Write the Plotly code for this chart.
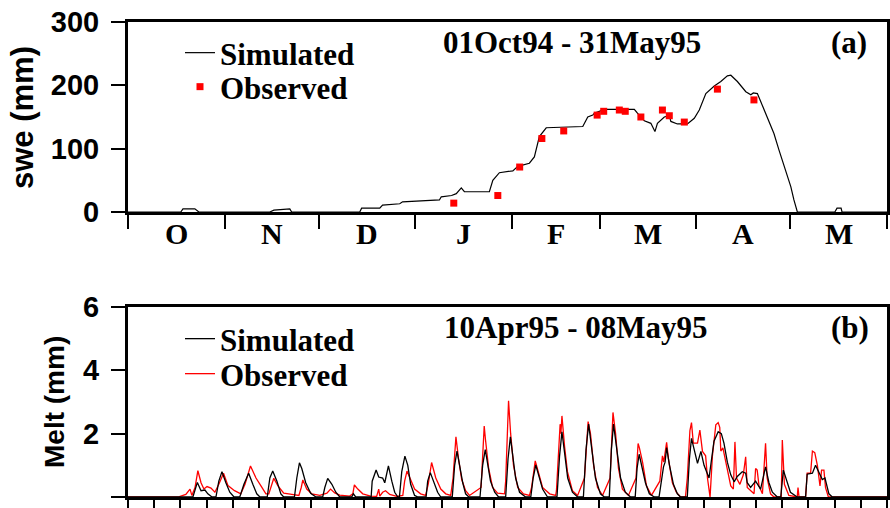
import plotly.graph_objects as go

# ---------------- Panel (a): SWE, days since 01 Oct 1994 ----------------
swe_sim_day = [0, 16.9, 17.6, 21.4, 22.7, 45.4, 46.7, 51.8, 52.4, 74.2, 74.8, 80.6, 81.5, 87.0,
               87.9, 99.7, 100.3, 103.6, 105.1, 106.7, 107.7, 115.7, 116.8, 118.9, 123.2, 124.8,
               128.5, 130.1, 131.7, 133.9, 145.6, 147.2, 148.8, 149.3, 152.5, 162.1, 163.1, 165.3,
               167.4, 168.7, 169.5, 171.7, 173.3, 173.8, 175.9, 179.1, 181.3, 182.9, 185.0, 187.7,
               189.8, 191.9, 193.0, 195.1, 197.8, 199.4, 200.2, 201.5, 202.6, 204.7, 206.8, 208.4,
               210.6, 212.2, 213.2, 214.3, 226.3, 227.0, 228.3, 228.6, 243]
swe_sim_mm = [0, 0, 5, 5, 0, 0, 3, 5, 0, 0, 6, 6, 11, 13,
              16, 19, 24, 26, 29, 38, 32, 32, 50, 62, 65, 72,
              77, 87, 119, 133, 135, 150, 153, 156, 162, 162, 156, 144,
              140, 127, 140, 150, 152, 143, 139, 139, 148, 161, 187, 199,
              206, 215, 216, 206, 190, 185, 188, 187, 174, 150, 124, 98,
              66, 40, 19, 0, 0, 6, 6, 0, 0]
swe_obs_day = [104.3, 118.4, 125.4, 132.5, 139.5, 150.2, 152.3, 157.3, 159.2, 164.2,
               171.1, 173.3, 178.1, 188.7, 200.4]
swe_obs_mm = [14, 26, 71, 116, 128, 153, 159, 161, 159, 150, 161, 152, 142, 194, 177]

month_edges = [0, 31, 61, 92, 123, 151, 182, 212, 243]
month_labels = ["O", "N", "D", "J", "F", "M", "A", "M"]
swe_ticks = [0, 100, 200, 300]

# ---------------- Panel (b): hourly melt, days since 10 Apr 1995 ----------------
melt_sim_day = [0, 2.48, 2.65, 2.79, 2.94, 3.05, 3.21,
                3.36, 3.47, 3.59, 3.74, 3.89, 4.05,
                4.27, 4.43, 4.61, 4.77, 4.92, 5.04,
                5.32, 5.42, 5.53, 5.69, 5.84, 5.95,
                6.36, 6.45, 6.55, 6.64, 6.79, 6.98, 7.18,
                7.44, 7.52, 7.63, 7.79, 7.94, 8.09,
                8.55, 8.61, 8.70,
                9.29, 9.33, 9.48, 9.58, 9.73, 9.81, 9.95, 10.08, 10.19, 10.31,
                10.37, 10.46, 10.58, 10.69, 10.80, 10.95, 11.07,
                11.39, 11.45, 11.55, 11.68, 11.83, 11.95,
                12.39, 12.48, 12.57, 12.67, 12.79, 12.90, 13.02,
                13.45, 13.55, 13.65, 13.74, 13.85, 14.01, 14.16,
                14.43, 14.52, 14.61, 14.69, 14.81, 14.96, 15.19,
                15.39, 15.48, 15.58, 15.69, 15.84, 16.03,
                16.39, 16.49, 16.58, 16.68, 16.80, 16.98, 17.18,
                17.40, 17.50, 17.60, 17.71, 17.86, 18.05, 18.20,
                18.39, 18.47, 18.55, 18.66, 18.82, 19.00, 19.20,
                19.38, 19.45, 19.53, 19.62, 19.77, 19.92, 20.11,
                20.29, 20.38, 20.46, 20.52, 20.58, 20.69, 20.84, 20.99, 21.11,
                21.37, 21.45, 21.53, 21.64, 21.76, 21.89, 22.01, 22.20, 22.39, 22.55, 22.67,
                22.77, 22.90, 23.03, 23.16, 23.28, 23.47, 23.60, 23.66, 23.79, 23.98, 24.17,
                24.36, 24.49, 24.62, 24.81,
                24.94, 25.04, 25.31, 25.57,
                25.89, 25.95, 26.15, 26.27, 26.40, 26.53, 26.63, 26.78, 26.91, 29]
melt_sim_mm = [0, 0, 0.46, 0.2, 0.22, 0.1, 0,
               0, 0.5, 0.80, 0.45, 0.15, 0,
               0, 0.4, 0.75, 0.4, 0.1, 0,
               0, 0.6, 0.82, 0.5, 0.1, 0,
               0, 0.6, 1.08, 0.9, 0.45, 0.12, 0,
               0, 0.3, 0.59, 0.4, 0.15, 0,
               0, 0.1, 0,
               0, 0.5, 0.85, 0.63, 0.6, 0.45, 0.98, 0.5, 0.15, 0,
               0, 0.8, 1.29, 1.0, 0.4, 0.05, 0,
               0, 0.5, 0.77, 0.5, 0.15, 0,
               0, 1.0, 1.45, 1.0, 0.45, 0.1, 0,
               0, 1.0, 1.5, 1.1, 0.5, 0.15, 0,
               0, 1.2, 1.9, 1.3, 0.6, 0.15, 0,
               0, 0.6, 1.01, 0.7, 0.25, 0,
               0, 1.3, 2.06, 1.4, 0.6, 0.15, 0,
               0, 1.5, 2.3, 1.6, 0.6, 0.1, 0,
               0, 1.5, 2.3, 1.6, 0.6, 0.15, 0,
               0, 0.9, 1.35, 1.0, 0.45, 0.1, 0,
               0, 0.6, 0.95, 1.1, 1.56, 1.0, 0.4, 0.1, 0,
               0, 1.2, 1.85, 1.45, 1.06, 1.44, 1.0, 0.6, 1.76, 2.06, 2.0,
               1.7, 1.1, 0.7, 0.48, 0.65, 0.8, 0.75, 0.45, 0.3, 0.5, 0.25,
               0.95, 0.45, 0.15, 0,
               0, 0.85, 0.15, 0,
               0, 0.72, 0.75, 1.0, 0.75, 0.55, 0.6, 0.1, 0, 0]

melt_obs_day = [0, 1.91, 2.21, 2.37, 2.44, 2.56, 2.67, 2.79, 2.90, 3.02, 3.17, 3.32,
                3.47, 3.65, 3.82, 4.07, 4.31,
                4.47, 4.68, 4.89, 5.08, 5.27,
                5.38, 5.50, 5.57, 5.73, 5.95, 6.26, 6.41,
                6.53, 6.62, 6.68, 6.83, 7.02, 7.33, 7.52,
                7.60, 7.74, 7.90, 8.09, 8.47,
                8.59, 8.65, 8.78, 8.97, 9.27,
                9.50, 9.58, 9.62, 9.73, 9.84, 10.00, 10.27,
                10.50, 10.57, 10.66, 10.80, 10.95, 11.18, 11.37,
                11.47, 11.60, 11.76, 11.95, 12.14, 12.33,
                12.42, 12.53, 12.63, 12.75, 12.90, 13.05,
                13.49, 13.61, 13.66, 13.78, 13.93, 14.12, 14.39,
                14.43, 14.54, 14.62, 14.73, 14.89, 15.11, 15.34,
                15.42, 15.56, 15.69, 15.84, 16.11, 16.34,
                16.37, 16.47, 16.51, 16.54, 16.58, 16.68, 16.79, 16.98, 17.18,
                17.44, 17.58, 17.67, 17.79, 17.94, 18.13,
                18.42, 18.53, 18.63, 18.74, 18.89, 19.12,
                19.41, 19.49, 19.54, 19.66, 19.81, 20.00,
                20.32, 20.42, 20.47, 20.52, 20.58, 20.65, 20.80, 20.95, 21.11,
                21.30, 21.37, 21.47, 21.53, 21.60, 21.76, 21.85, 21.95, 22.07, 22.14, 22.24,
                22.33, 22.46, 22.55, 22.61, 22.65, 22.73, 22.86, 22.98, 23.03, 23.13, 23.19,
                23.25, 23.38, 23.51, 23.60, 23.66, 23.79, 23.92, 23.98, 24.04, 24.11, 24.24,
                24.36, 24.42, 24.55, 24.68,
                24.96, 25.00, 25.08, 25.25, 25.57, 25.60, 25.64,
                25.89, 25.95, 26.08, 26.15, 26.24, 26.34, 26.44, 26.50, 26.59, 26.65, 26.76, 29]
melt_obs_mm = [0, 0, 0.08, 0.25, 0.05, 0.3, 0.83, 0.45, 0.25, 0.33, 0.28, 0.15,
               0.4, 0.75, 0.36, 0.2, 0.1,
               0.4, 0.98, 0.6, 0.35, 0.1,
               0.1, 0.45, 0.59, 0.35, 0.12, 0.08, 0.05,
               0.05, 0.3, 0.54, 0.25, 0.1, 0.05, 0.1,
               0.12, 0.25, 0.13, 0.06, 0.03,
               0.1, 0.38, 0.25, 0.1, 0.03,
               0.02, 0.25, 0.03, 0.15, 0.2, 0.08, 0.02,
               0.05, 0.5, 0.82, 0.55, 0.25, 0.1, 0.05,
               0.4, 1.09, 0.6, 0.25, 0.1, 0.05,
               0.6, 1.9, 1.2, 0.55, 0.2, 0.05,
               0.3, 2.24, 1.8, 0.9, 0.3, 0.12, 0.1,
               0.5, 3.04, 2.0, 1.0, 0.3, 0.1, 0.05,
               0.3, 1.14, 0.75, 0.3, 0.1, 0.05,
               0.2, 2.0, 2.3, 2.0, 2.56, 1.6, 0.8, 0.2, 0.05,
               0.6, 2.38, 2.0, 1.0, 0.3, 0.05,
               0.6, 2.67, 2.0, 0.9, 0.25, 0.05,
               0.6, 1.69, 1.55, 1.1, 0.35, 0.05,
               0.5, 1.3, 1.1, 1.4, 1.73, 1.2, 0.45, 0.15, 0,
               0, 0.6, 2.1, 2.35, 1.7, 1.7, 2.11, 1.44, 1.3, 0.6, 0,
               1.3, 2.28, 2.35, 2.2, 1.45, 1.55, 1.03, 0.6, 0.35, 0.25, 1.74,
               0.6, 0.4, 0.7, 1.27, 0.3, 0.2, 0.1, 0.9, 0.85, 0.35, 0.1,
               1.7, 0.6, 0.1, 0,
               0, 1.8, 0.4, 0.05, 0, 0.3, 0,
               0, 0.75, 0.75, 1.45, 1.4, 1.0, 0.35, 0.85, 0.85, 0.3, 0, 0]
melt_ticks = [0, 2, 4, 6]
n_melt_days = 29

SERIF = "Liberation Serif"
SANS = "Liberation Sans"

fig = go.Figure()

# panel (a)
fig.add_trace(go.Scatter(x=swe_sim_day, y=swe_sim_mm, mode="lines", name="Simulated",
                         line=dict(color="black", width=1.2), xaxis="x", yaxis="y",
                         legend="legend"))
fig.add_trace(go.Scatter(x=swe_obs_day, y=swe_obs_mm, mode="markers", name="Observed",
                         marker=dict(symbol="square", size=7, color="#ff0000"),
                         xaxis="x", yaxis="y", legend="legend2"))
# panel (b)
fig.add_trace(go.Scatter(x=melt_obs_day, y=melt_obs_mm, mode="lines", name="Observed",
                         line=dict(color="#ff0000", width=1.3), xaxis="x2", yaxis="y2",
                         legend="legend4"))
fig.add_trace(go.Scatter(x=melt_sim_day, y=melt_sim_mm, mode="lines", name="Simulated",
                         line=dict(color="black", width=1.3), xaxis="x2", yaxis="y2",
                         legend="legend3"))

W, H = 890, 508
L, R, T, B = 128, 3, 22, 11
pw, ph = W - L - R, H - T - B


def px_x(px):
    return (px - L) / pw


def px_y(py):
    return (H - B - py) / ph


tickfont = dict(family=SANS, size=29, color="black", weight="bold")
common_x = dict(showgrid=False, zeroline=False, showline=True, linewidth=3, linecolor="black",
                mirror=True, ticks="outside", ticklen=14, tickwidth=2, tickcolor="black",
                showticklabels=False, automargin=False)
common_y = dict(showgrid=False, zeroline=False, showline=True, linewidth=3, linecolor="black",
                mirror="ticks", ticks="outside", ticklen=14, tickwidth=2, tickcolor="black",
                tickfont=tickfont, ticklabelstandoff=6, automargin=False)

legend_common = dict(xanchor="left", yanchor="middle", bgcolor="rgba(0,0,0,0)", borderwidth=0,
                     font=dict(family=SERIF, size=31, color="black", weight="bold"),
                     itemwidth=30)

fig.update_layout(
    width=W, height=H, margin=dict(l=L, r=R, t=T, b=B, pad=0, autoexpand=False),
    paper_bgcolor="white", plot_bgcolor="white",
    showlegend=True,
    xaxis=dict(domain=[0, 1], range=[month_edges[0], month_edges[-1]], tickvals=month_edges,
               anchor="y", **common_x),
    yaxis=dict(domain=[px_y(212), 1], range=[swe_ticks[0], swe_ticks[-1]], tickvals=swe_ticks,
               anchor="x", **common_y),
    xaxis2=dict(domain=[0, 1], range=[0, n_melt_days], tick0=0, dtick=1, anchor="y2", **common_x),
    yaxis2=dict(domain=[0, px_y(307)], range=[melt_ticks[0], melt_ticks[-1]], tickvals=melt_ticks,
                anchor="x2", **common_y),
    legend=dict(x=px_x(180), y=px_y(53), **legend_common),
    legend2=dict(x=px_x(180), y=px_y(87), **legend_common),
    legend3=dict(x=px_x(180), y=px_y(339), **legend_common),
    legend4=dict(x=px_x(180), y=px_y(374), **legend_common),
)

ann = []
for i, lab in enumerate(month_labels):
    ann.append(dict(x=(month_edges[i] + month_edges[i + 1]) / 2, xref="x", y=px_y(233), yref="paper",
                    text=lab, showarrow=False, xanchor="center", yanchor="middle",
                    font=dict(family=SERIF, size=30, color="black", weight="bold")))
title_font = dict(family=SERIF, size=31, color="black", weight="bold")
ann += [
    dict(x=px_x(571.5), y=px_y(42), xref="paper", yref="paper", text="01Oct94 - 31May95",
         showarrow=False, xanchor="center", yanchor="middle", font=title_font),
    dict(x=px_x(849), y=px_y(42), xref="paper", yref="paper", text="(a)",
         showarrow=False, xanchor="center", yanchor="middle", font=title_font),
    dict(x=px_x(575), y=px_y(327), xref="paper", yref="paper", text="10Apr95 - 08May95",
         showarrow=False, xanchor="center", yanchor="middle", font=title_font),
    dict(x=px_x(850), y=px_y(327), xref="paper", yref="paper", text="(b)",
         showarrow=False, xanchor="center", yanchor="middle", font=title_font),
    dict(x=px_x(22), y=px_y(118), xref="paper", yref="paper", text="swe (mm)", textangle=-90,
         showarrow=False, xanchor="center", yanchor="middle",
         font=dict(family=SANS, size=31, color="black", weight="bold")),
    dict(x=px_x(54), y=px_y(402), xref="paper", yref="paper", text="Melt (mm)", textangle=-90,
         showarrow=False, xanchor="center", yanchor="middle",
         font=dict(family=SANS, size=28, color="black", weight="bold")),
]
fig.update_layout(annotations=ann)

fig.write_html("out.html")
